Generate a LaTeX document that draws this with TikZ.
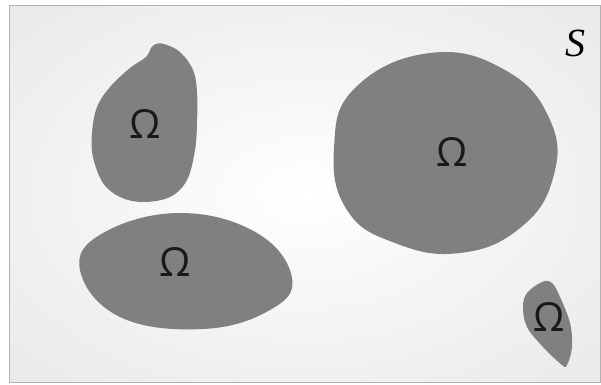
\documentclass[tikz,border=0pt]{standalone}
\usepackage{fontspec}
\newfontfamily\omegafont{Open Sans}
\newfontfamily\spacefont{Liberation Serif}
\usepackage{tikz}
\usetikzlibrary{positioning, calc}

\pgfdeclareradialshading{canvasshade}{\pgfpoint{0bp}{0bp}}{color(0bp)=(white); color(12bp)=(white!97!black); color(50bp)=(white!88!black); color(75bp)=(white!85!black)}

\begin{document}
\begin{tikzpicture}[
        x=1pt, y=-1pt,
        % styles
        canvas/.style={shading=canvasshade, draw=black!30, line width=0.8pt},
        region/.style={fill=black!50, draw=none},
        omega/.style={font=\omegafont\fontsize{40}{48}\selectfont, text=black!90, inner sep=0pt},
        space/.style={font=\spacefont\fontsize{40}{48}\selectfont\itshape, inner sep=0pt} ]

    \useasboundingbox (0,0) rectangle (601,384);

    % --- BACKGROUND: sample space ---
    \shade [canvas] (9,5) rectangle (600.5,382);
    \node (S) [space] at (575,43) {S};

    % --- REGIONS ---
    % upper left, with the small bump on top
    \fill [region] plot [smooth cycle, tension=0.6] coordinates {
        (164,44) (180,52) (193,70) (197,92) (197,123) (195,150) (187,180)
        (170,197) (143,202) (120,197) (103,183) (93,157) (92,133) (97,107)
        (110,87) (130,68) (146,57) (151,48) (156,44)};
    \node (om1) [omega] at (145,124) {Ω};

    % lower left, almost an ellipse
    \fill [region] plot [smooth cycle, tension=0.7] coordinates {
        (80,270) (103,233) (180,213) (257,233) (292,278) (270,310)
        (203,329) (120,317)};
    \node (om2) [omega] at (175,262) {Ω};

    % big one on the right
    \fill [region] plot [smooth cycle, tension=0.75] coordinates {
        (430,53) (505,70) (550,120) (553,178) (520,228) (460,253)
        (395,243) (347,210) (334,148) (355,88)};
    \node (om3) [omega] at (452,152) {Ω};

    % small drop, bottom right
    \fill [region] plot [smooth cycle, tension=0.6] coordinates {
        (542,282) (527,293) (523,307) (527,327) (543,347) (562,365)
        (567,365) (572,347) (570,323) (560,297) (552,283)};
    \node (om4) [omega] at (549,317) {Ω};

\end{tikzpicture}
\end{document}
